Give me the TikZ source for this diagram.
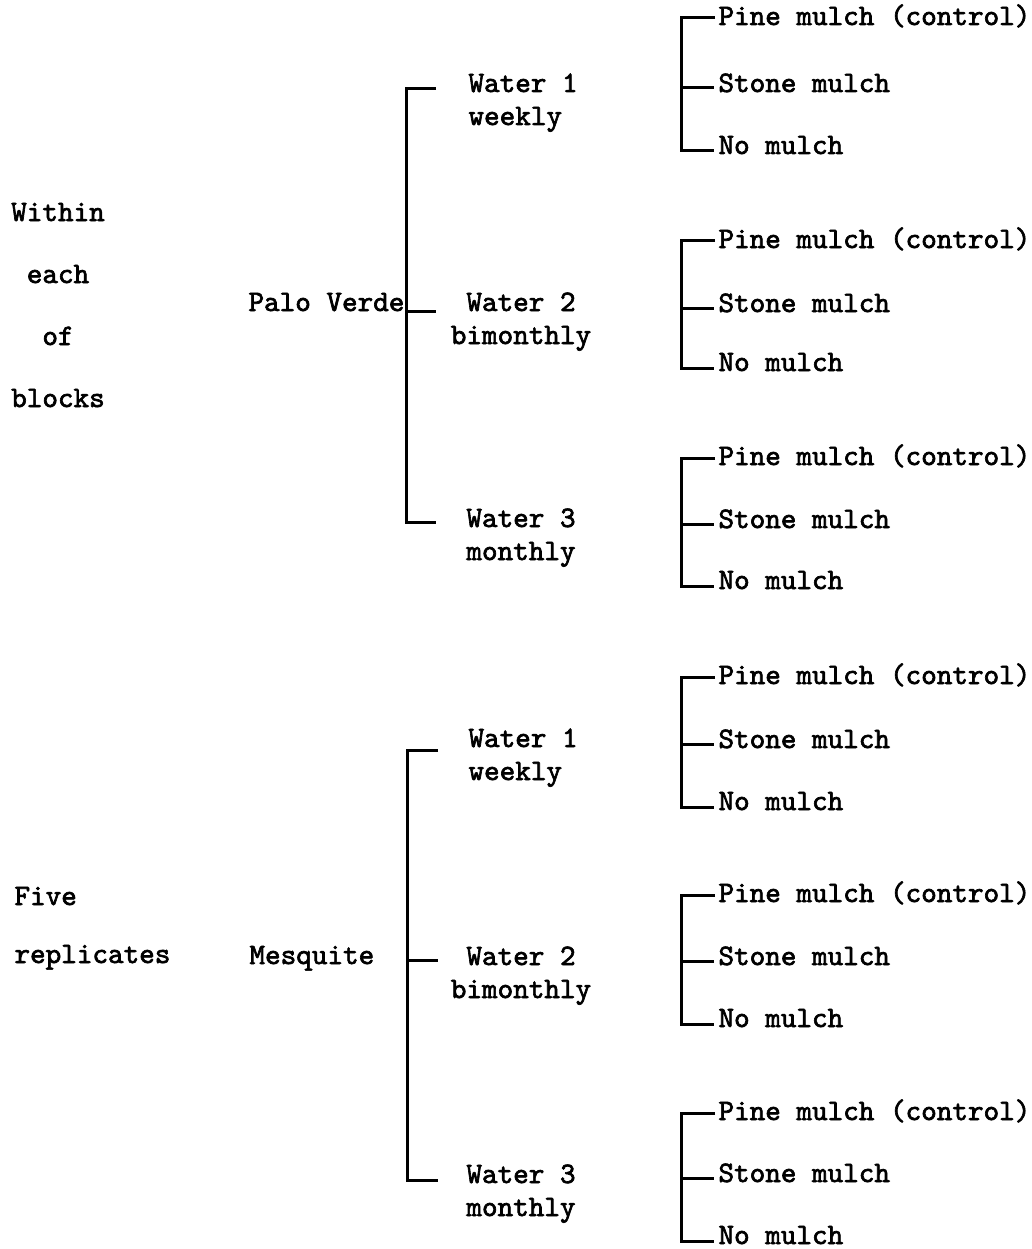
\documentclass[tikz,border=0pt]{standalone}
\usepackage{fontspec}
\newfontfamily\twfont{lmmono10-regular.otf}[FakeBold=2.2]
\begin{document}
\begin{tikzpicture}[x=1pt,y=-1pt,
  line width=3pt, line join=miter,
  lbl/.style={inner sep=0pt, font=\twfont\bfseries\fontsize{29.7}{33}\selectfont},
  lblwide/.style={inner sep=0pt, font=\twfont\bfseries\fontsize{29.7}{62}\selectfont}]
\useasboundingbox (0,0) rectangle (1031,1249);

% left column (base anchor = last line)
\node[lblwide, anchor=base, align=center] (within) at (58,407) {Within\\each\\of\\blocks};
\node[lbl, anchor=base west] (five) at (13,905) {Five};
\node[lbl, anchor=base west] (repl) at (13,963) {replicates};

% species
\node[lbl, anchor=base west] (pv) at (247,311) {Palo Verde};
\node[lbl, anchor=base west] (mq) at (248,964) {Mesquite};

% water levels (base anchor = last line)
\node[lbl, anchor=base west, align=left] (pw1) at (467,125) {Water 1\\weekly};
\node[lbl, anchor=base, align=center] (pw2) at (521,344) {Water 2\\bimonthly};
\node[lbl, anchor=base, align=center] (pw3) at (521,560) {Water 3\\monthly};
\node[lbl, anchor=base west, align=left] (mw1) at (467,780) {Water 1\\weekly};
\node[lbl, anchor=base, align=center] (mw2) at (521,998) {Water 2\\bimonthly};
\node[lbl, anchor=base, align=center] (mw3) at (521,1216) {Water 3\\monthly};

% species brackets
\coordinate (pvt) at (406,89);
\coordinate (pvm) at (406,311);
\coordinate (pvb) at (406,522);
\draw (pvt) ++(30,0) -- (pvt) -- (pvb) -- ++(30,0);
\draw (pvm) -- ++(30,0);
\coordinate (mqt) at (407,750);
\coordinate (mqm) at (407,960);
\coordinate (mqb) at (407,1180);
\draw (mqt) ++(31,0) -- (mqt) -- (mqb) -- ++(31,0);
\draw (mqm) -- ++(31,0);

% mulch groups
\foreach \g/\a/\b/\c in {1/17/84/146, 2/240/304/363, 3/457/520/581, 4/676/740/802, 5/894/957/1019, 6/1112/1174/1236}{
  \node[lbl, anchor=base west] (p\g) at (717,\a+8) {Pine mulch (control)};
  \node[lbl, anchor=base west] (s\g) at (717,\b+8) {Stone mulch};
  \node[lbl, anchor=base west] (n\g) at (717,\c+8) {No mulch};
  \coordinate (bt\g) at (681,\a+1);
  \coordinate (bm\g) at (681,\b+4);
  \coordinate (bb\g) at (681,\c+5);
  \draw ([xshift=-2pt]p\g.west |- bt\g) -- (bt\g) -- (bb\g) -- ([xshift=-3pt]n\g.west |- bb\g);
  \draw (bm\g) -- ([xshift=-3pt]s\g.west |- bm\g);
}
\end{tikzpicture}
\end{document}
